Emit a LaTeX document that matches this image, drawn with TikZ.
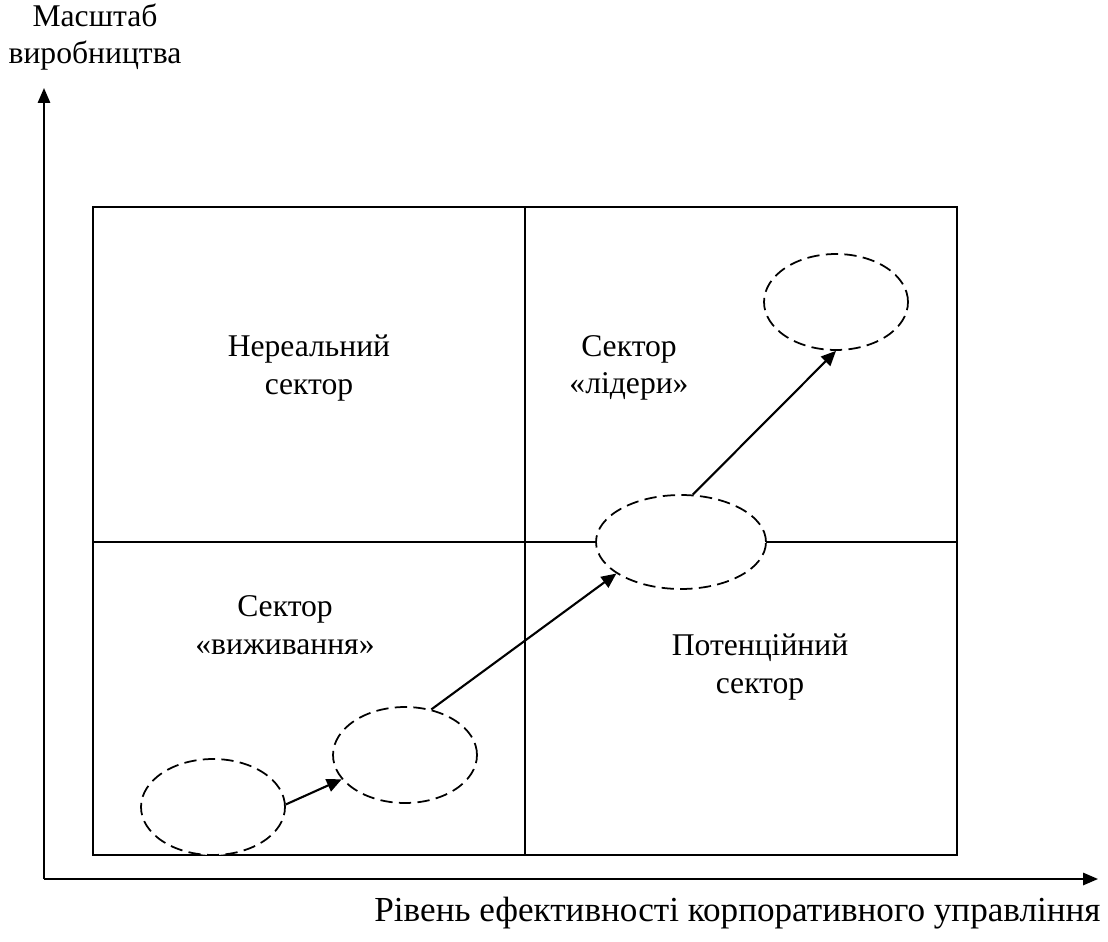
\documentclass[tikz,border=0pt]{standalone}
\usepackage{fontspec}
\setmainfont{Liberation Serif}
\usetikzlibrary{calc, shapes, arrows.meta, positioning}

\begin{document}
\begin{tikzpicture}[
          x=0.02cm, y=0.02cm,
          label/.style={align=center, font=\fontsize{18}{21.5}\selectfont, inner sep=0pt},
          zone/.style={ellipse, draw, dash pattern=on 7pt off 3.6pt, line width=1pt, fill=white, inner sep=0pt},
          arrow/.style={-{Triangle[length=8.5pt, width=7.5pt]}, line width=1.2pt},
          axis/.style={-{Triangle[length=8.5pt, width=7pt]}, line width=1.1pt}
        ]
          \useasboundingbox (0,0) rectangle (1108,941);

          % axes
          \coordinate (origin) at (44,62);
          \coordinate (ytip) at (44,853);
          \coordinate (xtip) at (1098,62);
          \draw[axis] (origin) -- (ytip);
          \draw[axis] (origin) -- (xtip);
          \node[label] (ylabel) at (95,904) {Масштаб\\виробництва};
          \node[label, font=\fontsize{20}{24}\selectfont, anchor=east] (xlabel) at (1101,28) {Рівень ефективності корпоративного управління};

          % matrix
          \draw[line width=1pt] (93,86) rectangle (957,734);
          \draw[line width=1pt] (525,86) -- (525,734);
          \draw[line width=1pt] (93,399) -- (957,399);

          \node[label] (unreal) at (309,573) {Нереальний\\сектор};
          \node[label] (leaders) at (629,573) {Сектор\\«лідери»};
          \node[label] (survive) at (285,316) {Сектор\\«виживання»};
          \node[label] (potential) at (760,274) {Потенційний\\сектор};

          % positions of the firm
          \node[zone, minimum width=2.88cm, minimum height=1.92cm] (e1) at (213,134) {};
          \node[zone, minimum width=2.88cm, minimum height=1.92cm] (e2) at (405,186) {};
          \node[zone, minimum width=3.4cm, minimum height=1.88cm] (e3) at (681,399) {};
          \node[zone, minimum width=2.88cm, minimum height=1.92cm] (e4) at (836,639) {};

          \draw[arrow] (e1.2) -- (e2.201);
          \draw[arrow] (e2.60) -- (e3.206);
          \draw[arrow] (e3.76) -- (e4.south);
        \end{tikzpicture}
\end{document}
